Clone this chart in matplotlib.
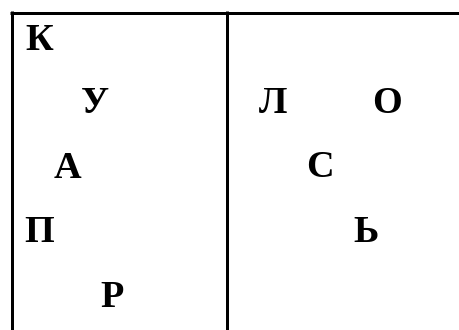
import matplotlib
matplotlib.use("Agg")
import matplotlib.pyplot as plt
from matplotlib.lines import Line2D

# Letters in the grid (left column and right column)
letters = ["К", "У", "А", "П", "Р", "Л", "О", "С", "Ь"]
letter_x = [39, 95, 67, 39, 112, 273, 387, 320, 366]   # horizontal centers (px)
letter_base = [50, 113, 178, 242, 307, 113, 113, 177, 242]  # baselines (px)

W, H = 459, 330
fig = plt.figure(figsize=(W / 100, H / 100), dpi=100)
ax = fig.add_axes([0, 0, 1, 1])
ax.set_xlim(0, W)
ax.set_ylim(H, 0)
ax.axis("off")

# table rules
lw = 3.0 * 72 / 100
ax.add_line(Line2D([10, W], [12.5, 12.5], color="black", lw=lw, solid_capstyle="butt"))
ax.add_line(Line2D([11.5, 11.5], [11, H], color="black", lw=lw, solid_capstyle="butt"))
ax.add_line(Line2D([227, 227], [11, H], color="black", lw=lw, solid_capstyle="butt"))

for ch, x, y in zip(letters, letter_x, letter_base):
    ax.text(x, y, ch, ha="center", va="baseline", fontsize=27.5,
            fontweight="bold", family=["Liberation Serif", "DejaVu Serif"])

fig.savefig("out.png", dpi=100, facecolor="white")
